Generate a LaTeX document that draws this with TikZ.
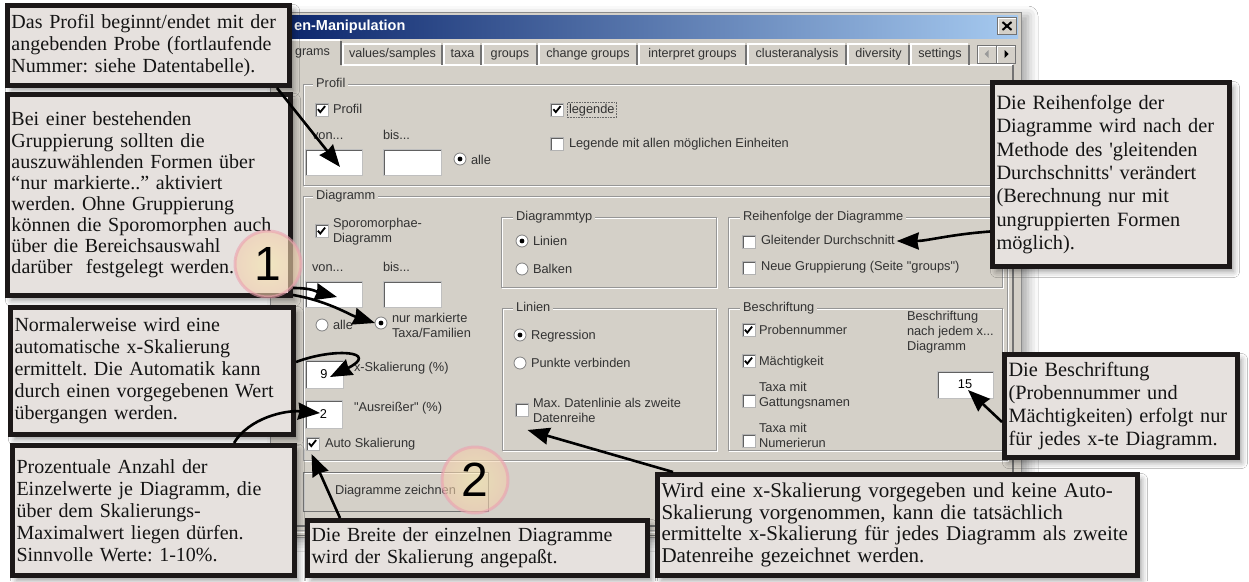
\documentclass[tikz,border=0pt]{standalone}
\usepackage{fontspec}
\setmainfont{Liberation Serif}
\newfontfamily\uifont{Liberation Sans}
\usetikzlibrary{arrows.meta, shadows.blur, calc}
\frenchspacing

\definecolor{dlg}{RGB}{212,208,200}
\definecolor{calloutbg}{RGB}{230,225,222}
\definecolor{boxline}{RGB}{28,24,24}
\definecolor{titleL}{RGB}{10,36,106}
\definecolor{titleR}{RGB}{166,202,240}
\definecolor{etch}{RGB}{150,150,150}
\definecolor{uitext}{RGB}{50,50,50}
\definecolor{ringpink}{RGB}{236,160,175}
\definecolor{markfill}{RGB}{247,234,172}

% etched frame of a group box
\newcommand{\etchedframe}[4]{%
  \draw[white, line width=1pt] (#1+1,#2+1) rectangle (#3+1,#4+1);
  \draw[etch, line width=1pt] (#1,#2) rectangle (#3,#4);}

\tikzset{
  uitxt/.style={anchor=west, inner sep=0pt, outer sep=0pt, align=left,
    font=\uifont\fontsize{12.8}{15}\selectfont, text=uitext},
  uiline/.style={uitxt, text height=9.3pt, text depth=2.7pt},
  tabtxt/.style={inner sep=0pt, outer sep=0pt, text height=9.3pt, text depth=2.7pt,
    font=\uifont\fontsize{12.6}{14}\selectfont, text=uitext},
  grplabel/.style={anchor=west, inner xsep=3pt, inner ysep=1pt, fill=dlg,
    text height=9.3pt, text depth=2.7pt,
    font=\uifont\fontsize{12.8}{15}\selectfont, text=uitext},
  sunkenedge/.style={path picture={\draw[black!62, line width=3pt]
    (path picture bounding box.south west) |- (path picture bounding box.north east);}},
  inbox/.style={rectangle, inner sep=0pt, outer sep=0pt, fill=white, draw=black!25,
    line width=0.8pt, sunkenedge, font=\uifont\fontsize{12.8}{15}\selectfont, text=black},
  cbx/.style={rectangle, minimum size=13pt, inner sep=0pt, outer sep=0pt, fill=white,
    draw=black!30, line width=0.8pt, sunkenedge},
  cbxon/.style={cbx, path picture={
    \draw[black!62, line width=3pt]
      (path picture bounding box.south west) |- (path picture bounding box.north east);
    \draw[black, line width=1.8pt]
      ([shift={(-3.6pt,0.3pt)}]path picture bounding box.center) --
      ([shift={(-1.2pt,-2.6pt)}]path picture bounding box.center) --
      ([shift={(3.6pt,3.4pt)}]path picture bounding box.center);}},
  rad/.style={circle, minimum size=12pt, inner sep=0pt, outer sep=0pt, fill=white,
    draw=black!50, line width=0.8pt},
  radon/.style={rad, path picture={\fill[black] (path picture bounding box.center) circle (2.4pt);}},
  raised/.style={rectangle, inner sep=0pt, outer sep=0pt, fill=dlg, draw=black!55,
    line width=1pt, path picture={\draw[white, line width=3pt]
    (path picture bounding box.south west) |- (path picture bounding box.north east);}},
  callout/.style={draw=boxline, line width=5pt, fill=calloutbg, inner xsep=4pt,
    inner ysep=0pt, align=left, anchor=north west, text=black!92,
    blur shadow={shadow xshift=4pt, shadow yshift=-5pt, shadow blur radius=6pt,
      shadow opacity=40}},
  marker/.style={circle, minimum size=66pt, inner sep=0pt, shading=radial,
    inner color=markfill, outer color=markfill!60!ringpink, fill opacity=0.6,
    draw=ringpink, draw opacity=0.6, line width=3pt, text opacity=1, text=black,
    font=\uifont\fontsize{48}{48}\selectfont},
  arr/.style={draw=black, line width=2.6pt, -{Stealth[length=22pt, width=17pt, inset=1.5pt]}},
}

\begin{document}
\begin{tikzpicture}[x=1pt, y=-1pt, line join=miter]
\useasboundingbox (0,0) rectangle (1249,581);
\fill[white] (0,0) rectangle (1249,581);

% ---------------- dialog window ----------------
\path[fill=dlg, draw=black!45, line width=1pt,
  blur shadow={shadow xshift=7pt, shadow yshift=-4pt, shadow blur radius=10pt, shadow opacity=35}]
  (270,12) rectangle (1021,537);
\shade[left color=titleL, right color=titleR] (273,15) rectangle (1018,38);
\node[anchor=west, inner sep=0pt, text=white, font=\uifont\bfseries\fontsize{14.5}{16}\selectfont]
  (title) at (294,27) {en-Manipulation};
\node[raised, minimum width=19pt, minimum height=17pt] (closeb) at (1007,26) {};
\draw[black, line width=2pt] ([shift={(-4.5pt,4pt)}]closeb.center) -- ([shift={(4.5pt,-4pt)}]closeb.center);
\draw[black, line width=2pt] ([shift={(-4.5pt,-4pt)}]closeb.center) -- ([shift={(4.5pt,4pt)}]closeb.center);

% ---------------- tabs ----------------
\draw[white, line width=1.2pt] (342,65) -- (1013,65);
\draw[white, line width=1.2pt] (271,66) -- (271,40) -- (340,40);
\draw[black!60, line width=1.4pt] (341,41) -- (341,65);
\node[tabtxt, anchor=west] (tab0) at (295,52) {grams};
\foreach \a/\b in {342/443, 443/482, 482/538, 538/638, 638/747, 747/847, 847/910, 910/970}{
  \draw[white, line width=1.2pt] (\a+1,65) -- (\a+1,44) -- (\b-2,44);
  \draw[black!55, line width=1.2pt] (\b-1,45) -- (\b-1,65);
}
\node[tabtxt] (tab1) at (392.5,54) {values/samples};
\node[tabtxt] (tab2) at (462.5,54) {taxa};
\node[tabtxt] (tab3) at (510,54) {groups};
\node[tabtxt] (tab4) at (588,54) {change groups};
\node[tabtxt] (tab5) at (692.5,54) {interpret groups};
\node[tabtxt] (tab6) at (797,54) {clusteranalysis};
\node[tabtxt] (tab7) at (878.5,54) {diversity};
\node[tabtxt] (tab8) at (940,54) {settings};
\node[raised, minimum width=19pt, minimum height=18pt] (scrl) at (987,54) {};
\node[raised, minimum width=19pt, minimum height=18pt] (scrr) at (1006,54) {};
\fill[black!40] ([shift={(-2.5pt,0pt)}]scrl.center) -- ([shift={(1.5pt,4pt)}]scrl.center) -- ([shift={(1.5pt,-4pt)}]scrl.center) -- cycle;
\fill[black] ([shift={(2.5pt,0pt)}]scrr.center) -- ([shift={(-1.5pt,4pt)}]scrr.center) -- ([shift={(-1.5pt,-4pt)}]scrr.center) -- cycle;

% panel edges and window bottom
\draw[black!55, line width=1.2pt] (1013,65) -- (1013,526) -- (276,526);
\draw[black!35, line width=1pt] (270,530) -- (1021,530);
\draw[white, line width=1pt] (270,532) -- (1021,532);
\draw[black!55, line width=1pt] (270,535) -- (1021,535);

% ---------------- group "Profil" ----------------
\etchedframe{303}{84}{1007}{185}
\node[grplabel] (gProfil) at (313,84) {Profil};
\node[cbxon] (cbP) at (321.5,109.5) {};
\node[uiline] (tProfil) at (333,110) {Profil};
\node[uiline] (tVonP) at (312,136) {von...};
\node[uiline] (tBisP) at (383,136) {bis...};
\node[inbox, minimum width=57pt, minimum height=26pt] (vonP) at (333.5,162) {};
\node[inbox, minimum width=58pt, minimum height=26pt] (bisP) at (412,162) {};
\node[radon] (radAlleP) at (460,159) {};
\node[uiline] (tAlleP) at (471,161) {alle};
\node[cbxon] (cbLeg) at (557,109.5) {};
\node[uiline] (tLeg) at (569,110) {legende};
\draw[black!60, densely dotted, line width=0.6pt]
  ([shift={(-2pt,1.5pt)}]tLeg.north west) rectangle ([shift={(2pt,-1.5pt)}]tLeg.south east);
\node[cbx] (cbLegAll) at (557,143.5) {};
\node[uiline] (tLegAll) at (569,144) {Legende mit allen möglichen Einheiten};

% ---------------- group "Diagramm" ----------------
\etchedframe{303}{196}{1007}{460}
\node[grplabel] (gDiag) at (313,196) {Diagramm};
\node[cbxon] (cbSp) at (321.5,231) {};
\node[uitxt] (tSp) at (333,232) {Sporomorphae-\\Diagramm};
\node[uiline] (tVonD) at (312,268) {von...};
\node[uiline] (tBisD) at (383,268) {bis...};
\node[inbox, minimum width=57pt, minimum height=26pt] (vonD) at (333.5,294) {};
\node[inbox, minimum width=58pt, minimum height=26pt] (bisD) at (412,294) {};
\node[rad] (radAlleD) at (322,325) {};
\node[uiline] (tAlleD) at (333,326) {alle};
\node[radon] (radNur) at (381,323) {};
\node[uitxt] (tNur) at (392,325) {nur markierte\\Taxa/Familien};
\node[inbox, minimum width=38pt, minimum height=28pt] (nineBox) at (324,374) {9};
\node[uiline] (tXsk) at (354,368) {x-Skalierung (\%)};
\node[inbox, minimum width=37pt, minimum height=28pt] (twoBox) at (323.5,414) {2};
\node[uiline] (tAus) at (354,408) {"Ausreißer" (\%)};
\node[cbxon] (cbAuto) at (312.5,443.5) {};
\node[uiline] (tAuto) at (325,444) {Auto Skalierung};

% Diagrammtyp
\etchedframe{501}{217}{716}{287}
\node[grplabel] (gTyp) at (513,217) {Diagrammtyp};
\node[radon] (radLin) at (522,241) {};
\node[uiline] (tLin) at (533,242) {Linien};
\node[rad] (radBalk) at (522,269) {};
\node[uiline] (tBalk) at (533,270) {Balken};

% Reihenfolge der Diagramme
\etchedframe{728}{217}{1002}{287}
\node[grplabel] (gReih) at (740,217) {Reihenfolge der Diagramme};
\node[cbx] (cbGleit) at (748.5,241.5) {};
\node[uiline] (gleit) at (761,241) {Gleitender Durchschnitt};
\node[cbx] (cbNeu) at (748.5,267.5) {};
\node[uiline] (tNeu) at (761,267) {Neue Gruppierung (Seite "groups")};

% Linien
\etchedframe{502}{308}{716}{450}
\node[grplabel] (gLin) at (513,308) {Linien};
\node[radon] (radReg) at (520,335) {};
\node[uiline] (tReg) at (531,336) {Regression};
\node[rad] (radPkt) at (520,363) {};
\node[uiline] (tPkt) at (531,364) {Punkte verbinden};
\node[cbx] (cbMax) at (521.5,409.5) {};
\node[uitxt] (tMax) at (533,410) {Max. Datenlinie als zweite\\Datenreihe};

% Beschriftung
\etchedframe{728}{308}{1002}{450}
\node[grplabel] (gBes) at (740,308) {Beschriftung};
\node[cbxon] (cbProb) at (748.5,330) {};
\node[uiline] (tProb) at (759,331) {Probennummer};
\node[cbxon] (cbMaech) at (748.5,361) {};
\node[uiline] (tMaech) at (759,362) {Mächtigkeit};
\node[cbx] (cbGatt) at (748.5,401) {};
\node[uitxt] (tGatt) at (759,396) {Taxa mit\\Gattungsnamen};
\node[cbx] (cbNum) at (748.5,441) {};
\node[uitxt] (tNum) at (759,435) {Taxa mit\\Numerierun};
\node[uitxt] (tJedem) at (907,332) {Beschriftung\\nach jedem x...\\Diagramm};
\node[inbox, minimum width=56pt, minimum height=27pt] (box15) at (965,384.5) {15};

% button
\node[raised, minimum width=185pt, minimum height=39pt, font=\uifont\fontsize{12.8}{15}\selectfont,
  text=uitext] (btn) at (395.5,491.5) {Diagramme zeichnen};

% ---------------- explanatory boxes ----------------
\node[callout, minimum width=282pt, minimum height=80pt, text width=274pt,
  font=\fontsize{20}{22}\selectfont] (c1) at (5,3)
  {Das Profil beginnt/endet mit der\\angebenden Probe (fortlaufende\\Nummer: siehe Datentabelle).};
\node[callout, minimum width=283pt, minimum height=201pt, text width=275pt,
  font=\fontsize{20}{21.1}\selectfont] (c2) at (5,92)
  {Bei einer bestehenden\\Gruppierung sollten die\\auszuwählenden Formen über\\“nur markierte..” aktiviert\\werden. Ohne Gruppierung\\können die Sporomorphen auch\\über die Bereichsauswahl\\darüber\ \ festgelegt werden.};
\node[callout, minimum width=283pt, minimum height=127pt, text width=275pt,
  font=\fontsize{20}{22}\selectfont] (c3) at (8,305)
  {Normalerweise wird eine\\automatische x-Skalierung\\ermittelt. Die Automatik kann\\durch einen vorgegebenen Wert\\übergangen werden.};
\node[callout, minimum width=282pt, minimum height=130pt, text width=274pt,
  font=\fontsize{20}{22}\selectfont] (c4) at (10,443)
  {Prozentuale Anzahl der\\Einzelwerte je Diagramm, die\\über dem Skalierungs-\\Maximalwert liegen dürfen.\\Sinnvolle Werte: 1-10\%.};
\node[callout, minimum width=340pt, minimum height=55pt, text width=332pt,
  font=\fontsize{20}{22}\selectfont] (c5) at (305,518)
  {Die Breite der einzelnen Diagramme\\wird der Skalierung angepaßt.};
\node[callout, minimum width=480pt, minimum height=101pt, text width=472pt,
  font=\fontsize{21}{21.7}\selectfont] (c6) at (655,472)
  {Wird eine x-Skalierung vorgegeben und keine Auto-\\Skalierung vorgenommen, kann die tatsächlich\\ermittelte x-Skalierung für jedes Diagramm als zweite\\Datenreihe gezeichnet werden.};
\node[callout, minimum width=237pt, minimum height=184pt, text width=229pt,
  font=\fontsize{20.3}{23.3}\selectfont] (c7) at (990,80)
  {Die Reihenfolge der\\Diagramme wird nach der\\Methode des \textquotesingle gleitenden\\Durchschnitts\textquotesingle{} verändert\\(Berechnung nur mit\\ungruppierten Formen\\möglich).};
\node[callout, minimum width=233pt, minimum height=103pt, text width=225pt,
  font=\fontsize{20.3}{23.3}\selectfont] (c8) at (1002,352)
  {Die Beschriftung\\(Probennummer und\\Mächtigkeiten) erfolgt nur\\für jedes x-te Diagramm.};

% ---------------- step markers ----------------
\node[marker] (m1) at (268,264) {1};
\node[marker] (m2) at (475,480) {2};

% ---------------- connectors ----------------
\draw[arr] ([xshift=272pt]c1.south west) -- ([shift={(6.5pt,-5pt)}]vonP.center);
\draw[arr] ([yshift=10pt]c2.south east) .. controls +(20,0) and +(-20,-5) .. ([shift={(3.5pt,-3pt)}]vonD.center);
\draw[arr] ([yshift=3pt]c2.south east) .. controls +(35,6) and +(-25,-8) .. (radNur.west);
\draw[arr] ([yshift=9pt]c3.east) .. controls +(40,-15) and +(50,-25) .. ([shift={(6pt,-3pt)}]nineBox.center);
\draw[arr] ([xshift=224pt]c4.north west) .. controls +(15,-25) and +(-35,-3) .. ([shift={(-3.5pt,1pt)}]twoBox.center);
\draw[arr] ([xshift=35pt]c5.north west) -- ([shift={(-1pt,-4pt)}]cbAuto.south);
\draw[arr] ([xshift=18pt]c6.north west) -- ([shift={(6pt,-14pt)}]cbMax.south);
\draw[arr] ([yshift=-57pt]c7.west) .. controls +(-40,3) and +(30,0) .. ([xshift=2pt]gleit.east);
\draw[arr] ([yshift=-16pt]c8.west) -- ([shift={(3pt,-5.5pt)}]box15.center);
\end{tikzpicture}
\end{document}
